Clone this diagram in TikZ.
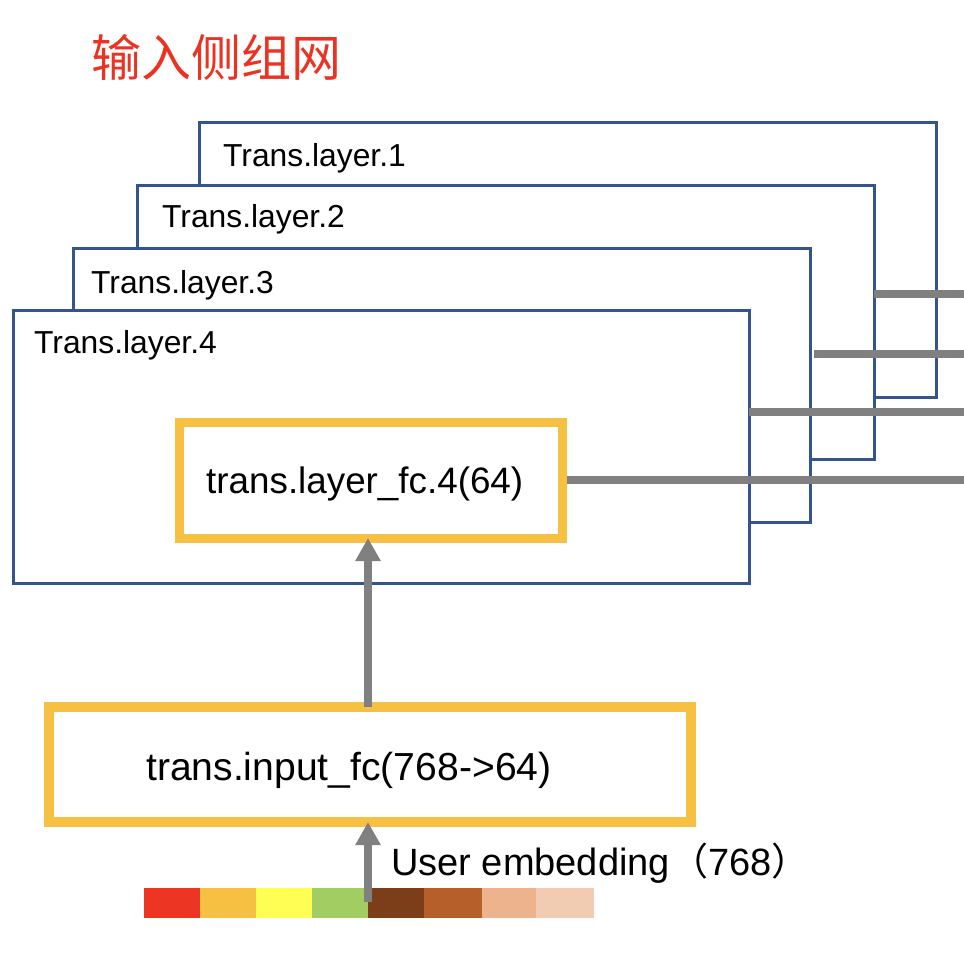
\documentclass[tikz,border=0pt]{standalone}
\usepackage{fontspec}
\setmainfont{Liberation Sans}
\newfontfamily\cjk{Noto Sans CJK SC}
\usetikzlibrary{arrows.meta}
\definecolor{layerblue}{RGB}{52,84,143}
\definecolor{boxyellow}{RGB}{246,193,67}
\definecolor{linegray}{RGB}{128,128,128}
\definecolor{titlered}{RGB}{234,51,35}
\definecolor{cA}{RGB}{237,53,36}
\definecolor{cB}{RGB}{246,193,67}
\definecolor{cC}{RGB}{255,254,84}
\definecolor{cD}{RGB}{161,205,99}
\definecolor{cE}{RGB}{123,62,25}
\definecolor{cF}{RGB}{182,95,42}
\definecolor{cG}{RGB}{236,179,141}
\definecolor{cH}{RGB}{241,204,178}
\tikzset{
  layerbox/.style={draw=layerblue, line width=3pt, fill=white, anchor=north west,
    minimum width=737pt, minimum height=273pt, inner sep=0pt, outer sep=0pt},
  fcbox/.style={draw=boxyellow, fill=white, inner sep=0pt, outer sep=0pt, anchor=north west},
  gline/.style={draw=linegray, line width=8pt},
  garrow/.style={draw=linegray, line width=8pt, -{Triangle[width=24pt,length=23pt]}},
  lbl/.style={inner sep=0pt, anchor=base west, text=black},
  layerlbl/.style={lbl, font={\fontsize{31.8}{31.8}\selectfont}},
}
\begin{document}
\begin{tikzpicture}[x=1pt,y=-1pt]
\useasboundingbox (0,0) rectangle (964,960);
% title
\node[lbl, text=titlered, font={\cjk\fontsize{50}{50}\selectfont}] (title) at (91,77) {输入侧组网};
% layer boxes
\node[layerbox, minimum height=274pt] (L1) at (199,123) {};
\node[layerbox] (L2) at (137,186) {};
\node[layerbox] (L3) at (73,249) {};
\node[layerbox, minimum width=736pt] (L4) at (13,310) {};
\node[layerlbl] (t1) at (223,167) {Trans.layer.1};
\node[layerlbl] (t2) at (162,228) {Trans.layer.2};
\node[layerlbl] (t3) at (91,293) {Trans.layer.3};
\node[layerlbl] (t4) at (34,353) {Trans.layer.4};
% output lines
\coordinate (e1) at (964,294);
\coordinate (e2) at (964,354);
\coordinate (e3) at (964,412);
\coordinate (e4) at (964,480);
\draw[gline] (L2.east |- e1) -- (e1);
\draw[gline] ([xshift=4pt]L3.east |- e2) -- (e2);
\draw[gline] (L4.east |- e3) -- (e3);
% fc boxes
\node[fcbox, line width=9pt, minimum width=383.5pt, minimum height=115.5pt] (fc4) at (179,422.5) {};
\draw[gline] (fc4.east |- e4) -- (e4);
\node[fcbox, line width=9pt, minimum width=383.5pt, minimum height=115.5pt] (fc4b) at (179,422.5) {};
\node[lbl, font={\fontsize{36.8}{36.8}\selectfont}] (fc4t) at (206,493) {trans.layer\_fc.4(64)};
\node[fcbox, line width=10pt, minimum width=642pt, minimum height=115pt] (inp) at (49,707) {};
\node[lbl, font={\fontsize{39.1}{39.1}\selectfont}] (inpt) at (146,780) {trans.input\_fc(768->64)};
% arrow between boxes
\coordinate (a1) at (368,707);
\draw[garrow] (a1) -- (a1 |- fc4.south);
% embedding strip
\fill[cA] (144,888) rectangle (200,918);
\fill[cB] (200,888) rectangle (256,918);
\fill[cC] (256,888) rectangle (312,918);
\fill[cD] (312,888) rectangle (368,918);
\fill[cE] (368,888) rectangle (424,918);
\fill[cF] (424,888) rectangle (482,918);
\fill[cG] (482,888) rectangle (536,918);
\fill[cH] (536,888) rectangle (594,918);
\coordinate (emb) at (368,902);
\draw[garrow] (emb) -- (emb |- inp.south);
\node[lbl, font={\fontsize{38}{38}\selectfont}] (embt) at (391,875) {User embedding{\cjk （}768{\cjk ）}};
\end{tikzpicture}
\end{document}
